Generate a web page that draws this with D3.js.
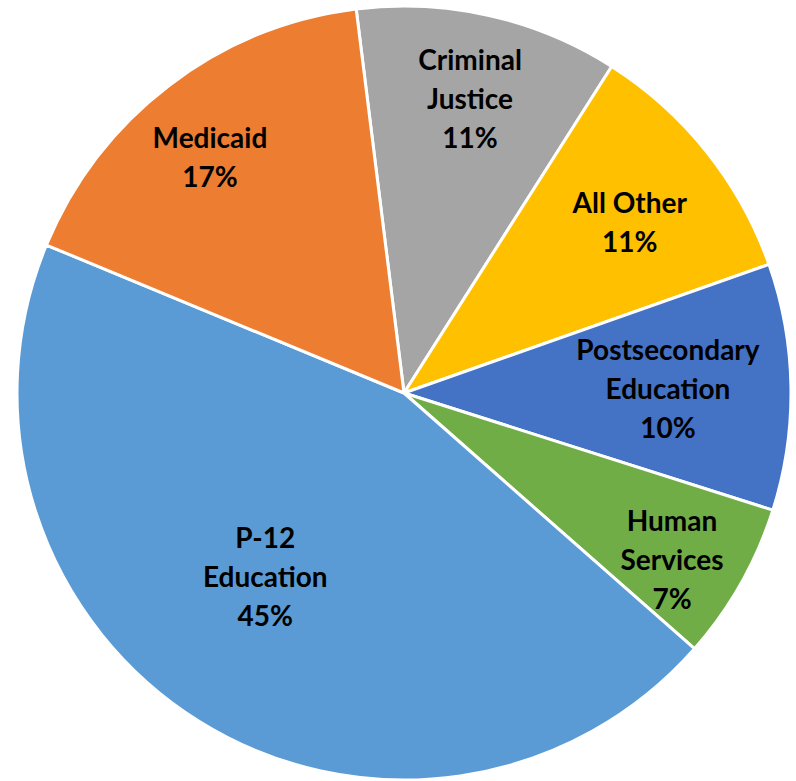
<!DOCTYPE html>
<html>
<head>
<meta charset="utf-8">
<script src="https://cdn.jsdelivr.net/npm/d3@7"></script>
<style>
  body { margin: 0; background: #fff; }
  text { font-family: Lato, "Open Sans", sans-serif; font-weight: bold; fill: #000; }
</style>
</head>
<body>
<script>
// data, clockwise from the top
var categories = ["Criminal Justice", "All Other", "Postsecondary Education", "Human Services", "P-12 Education", "Medicaid"];
var shares = [11.0, 10.6, 10.3, 6.6, 44.8, 16.8];
var labelLines = [["Criminal", "Justice"], ["All Other"], ["Postsecondary", "Education"], ["Human", "Services"], ["P-12", "Education"], ["Medicaid"]];
var colors = ["#A5A5A5", "#FFC000", "#4472C4", "#70AD47", "#5B9BD5", "#ED7D31"];

var width = 796, height = 781,
    cx = 404, cy = 393,
    radius = 387;

// label distance from the center, per slice (Excel "best fit" look)
var labelRadius = [301, 283, 264, 316, 231, 305];
var labelShift = [0, 1.4, 0, 2.5, 5, -2.2]; // degrees

var data = categories.map(function(c, i) {
  return { name: c, value: shares[i], lines: labelLines[i], color: colors[i], i: i };
});

var pie = d3.pie()
    .sort(null)
    .startAngle(-7.1 * Math.PI / 180)
    .endAngle(2 * Math.PI - 7.1 * Math.PI / 180)
    .value(function(d) { return d.value; });

var arc = d3.arc()
    .outerRadius(radius)
    .innerRadius(0);

var svg = d3.select("body").append("svg")
    .attr("width", width)
    .attr("height", height)
    .append("g")
    .attr("transform", "translate(" + cx + "," + cy + ")");

var g = svg.selectAll(".arc")
    .data(pie(data))
    .enter().append("g")
    .attr("class", "arc");

g.append("path")
    .attr("d", arc)
    .style("fill", function(d) { return d.data.color; })
    .style("stroke", "#fff")
    .style("stroke-width", 3)
    .style("stroke-linejoin", "round");

var lineH = 39;

g.append("text")
    .attr("text-anchor", "middle")
    .style("font-size", "28px")
    .attr("transform", function(d) {
      var a = (d.startAngle + d.endAngle) / 2 + labelShift[d.data.i] * Math.PI / 180;
      var r = labelRadius[d.data.i];
      return "translate(" + (r * Math.sin(a)) + "," + (-r * Math.cos(a)) + ")";
    })
    .each(function(d) {
      var lines = d.data.lines.concat([Math.round(d.data.value) + "%"]);
      var t = d3.select(this);
      var y0 = -(lines.length - 1) * lineH / 2;
      lines.forEach(function(l, k) {
        t.append("tspan")
          .attr("x", 0)
          .attr("y", y0 + k * lineH)
          .attr("dy", "0.35em")
          .text(l);
      });
    });
</script>
</body>
</html>
